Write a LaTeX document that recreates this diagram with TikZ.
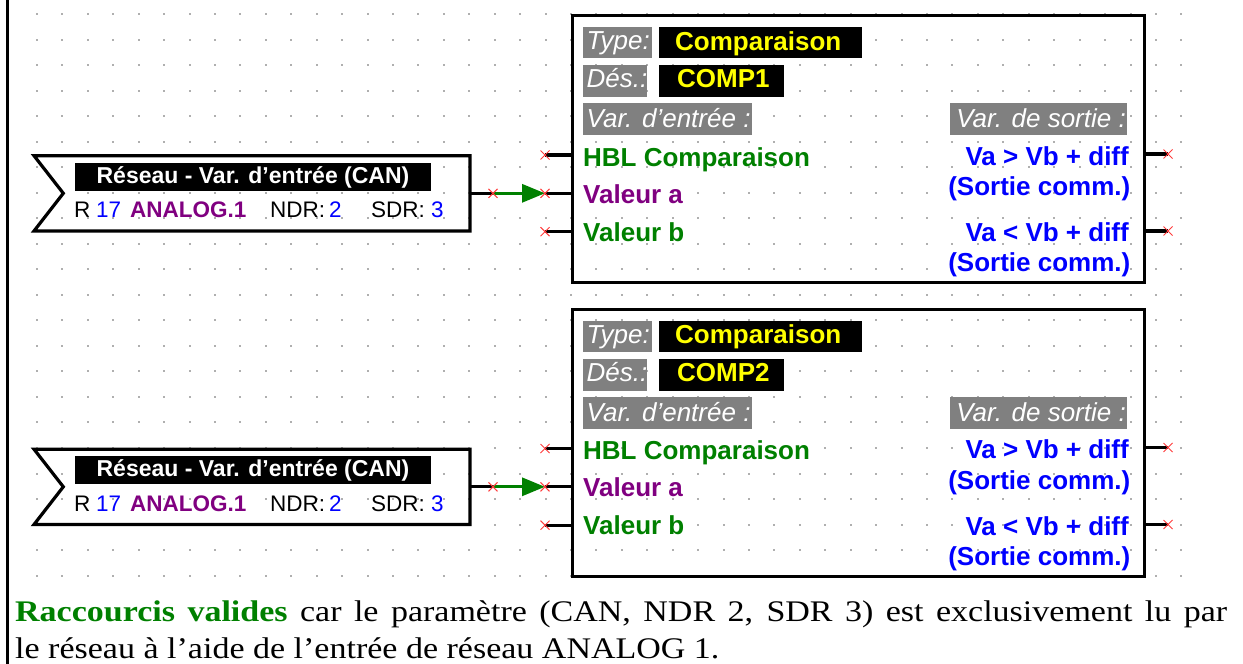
\documentclass[tikz,border=0pt]{standalone}
\usepackage{fontspec}
\setmainfont{Liberation Serif}
\newfontfamily\arialf{Liberation Sans}
\usetikzlibrary{shapes.misc,arrows.meta}
\definecolor{cgreen}{RGB}{0,128,0}
\definecolor{cpurple}{RGB}{128,0,128}
\definecolor{cblue}{RGB}{0,0,255}
\definecolor{cyellow}{RGB}{255,255,0}
\definecolor{cgray}{RGB}{128,128,128}
\definecolor{cdot}{RGB}{175,175,175}
\definecolor{cred}{RGB}{255,60,60}
\tikzset{
  wire/.style={line width=3.2pt},
  frame/.style={draw, line width=3.2pt, inner sep=0pt},
  xmark/.style={draw=cred, cross out, minimum size=8pt, inner sep=0pt, line width=1pt},
  graybox/.style={fill=cgray, inner sep=0pt, anchor=north west},
  blackbox/.style={fill=black, inner sep=0pt, anchor=north west},
  itl/.style={inner sep=0pt, anchor=base west, text=white, font=\arialf\itshape\fontsize{26}{30}\selectfont},
  ylw/.style={inner sep=0pt, anchor=base west, text=cyellow, font=\arialf\bfseries\fontsize{26}{30}\selectfont},
  bld/.style={inner sep=0pt, anchor=base west, font=\arialf\bfseries\fontsize{26}{30}\selectfont},
  rn/.style={inner sep=0pt, anchor=base west, font=\arialf\fontsize{22.5}{27}\selectfont},
  rb/.style={inner sep=0pt, anchor=base west, font=\arialf\bfseries\fontsize{22.5}{27}\selectfont},
  note/.style={inner sep=0pt, anchor=base west, font=\fontsize{34}{32}\selectfont}
}
\begin{document}
\begin{tikzpicture}[x=1pt,y=-1pt]
\useasboundingbox (0,0) rectangle (1243,664);
% grid of dots
\foreach \i in {0,...,45}{
  \foreach \j in {0,...,22}{
    \fill[cdot] ({37+25.43*\i-1},{14+25.53*\j-1}) rectangle ++(2,2);
  }
}
% left border
\draw[line width=3pt] (7,0) -- (7,664);

\foreach \k/\off/\des in {1/0/COMP1,2/293.5/COMP2}{
\begin{scope}[yshift=-\off pt]
  % comparison block
  \node[frame, minimum width=571.8pt, minimum height=267pt, anchor=north west] (comp\k) at (570.7,14) {};
  \node[graybox, minimum width=69pt, minimum height=31pt] (tyb\k) at (583,27) {};
  \node[itl] (tyt\k) at (586.5,49.5) {Type:};
  \node[blackbox, minimum width=203pt, minimum height=31pt] (cpb\k) at (659,27) {};
  \node[ylw] (cpt\k) at (675,50) {Comparaison};
  \node[graybox, minimum width=64pt, minimum height=32pt] (dsb\k) at (583,65) {};
  \node[itl] (dst\k) at (586.5,87.5) {Dés.:};
  \node[blackbox, minimum width=125pt, minimum height=32pt] (nmb\k) at (659,65) {};
  \node[ylw] (nmt\k) at (677,87.5) {\des};
  \node[graybox, minimum width=169pt, minimum height=32pt] (vib\k) at (583,103) {};
  \node[itl] (vit\k) at (586.5,127.5) {Var. d’entrée :};
  \node[graybox, minimum width=177pt, minimum height=32pt] (vob\k) at (950,103) {};
  \node[itl, anchor=base east] (vot\k) at (1126,127.5) {Var. de sortie :};
  \node[bld, text=cgreen] (in1t\k) at (583,166) {HBL Comparaison};
  \node[bld, text=cpurple] (in2t\k) at (583,203.3) {Valeur a};
  \node[bld, text=cgreen] (in3t\k) at (583,241) {Valeur b};
  \node[bld, text=cblue, anchor=base east] (o1t\k) at (1129,165) {Va > Vb + diff};
  \node[bld, text=cblue, anchor=base east] (o1s\k) at (1130.5,195.5) {(Sortie comm.)};
  \node[bld, text=cblue, anchor=base east] (o2t\k) at (1129,241.5) {Va < Vb + diff};
  \node[bld, text=cblue, anchor=base east] (o2s\k) at (1130.5,271.5) {(Sortie comm.)};
  % connection points
  \coordinate (pi1\k) at (545,155);
  \coordinate (pi2\k) at (545,193.3);
  \coordinate (pi3\k) at (545,231.7);
  \coordinate (po1\k) at (1168,154);
  \coordinate (po2\k) at (1168,231);
  \coordinate (pa\k) at (493,193.3);
  % network input block
  \draw[wire, line join=miter] (34,155.7) -- (470,155.7) -- (470,231) -- (34,231) -- (63.3,193.3) -- cycle;
  \coordinate (res\k) at (470,193.3);
  \node[blackbox, minimum width=356pt, minimum height=28pt] (rlb\k) at (75,162.3) {};
  \node[inner sep=0pt, anchor=base, text=white, font=\arialf\bfseries\fontsize{23}{27}\selectfont] (rlt\k) at (253,183) {Réseau - Var. d’entrée (CAN)};
  \node[rn] (r\k) at (74,217.7) {R};
  \node[rn, text=cblue] (rn\k) at (96,217.7) {17};
  \node[rb, text=cpurple] (an\k) at (130,217.7) {ANALOG.1};
  \node[rn] (nd\k) at (270,217.7) {NDR:};
  \node[rn, text=cblue] (ndv\k) at (329,217.7) {2};
  \node[rn] (sd\k) at (371,217.7) {SDR:};
  \node[rn, text=cblue] (sdv\k) at (431,217.7) {3};
  % connectors
  \draw[wire] (pi1\k) -- (pi1\k -| comp\k.west);
  \draw[wire] (pi2\k) -- (pi2\k -| comp\k.west);
  \draw[wire] (pi3\k) -- (pi3\k -| comp\k.west);
  \draw[wire] (po1\k -| comp\k.east) -- (po1\k);
  \draw[wire] (po2\k -| comp\k.east) -- (po2\k);
  \draw[wire] (res\k) -- (pa\k);
  \draw[wire, cgreen, -{Triangle[length=23pt,width=18pt]}] (pa\k) -- (pi2\k);
  % red end marks
  \node[xmark] (xi1\k) at (pi1\k) {};
  \node[xmark] (xi2\k) at (pi2\k) {};
  \node[xmark] (xi3\k) at (pi3\k) {};
  \node[xmark] (xo1\k) at (po1\k) {};
  \node[xmark] (xo2\k) at (po2\k) {};
  \node[xmark] (xa\k) at (pa\k) {};
\end{scope}
}

% note text
\node[note] (note1) at (15,621.3) {\scalebox{1}[0.88]{\makebox[1212pt][s]{\textcolor{cgreen}{\textbf{Raccourcis valides}} car le paramètre (CAN, NDR 2, SDR 3) est exclusivement lu par}}};
\node[note] (note2) at (15,658) {\scalebox{1}[0.88]{le réseau à l’aide de l’entrée de réseau ANALOG 1.}};
\end{tikzpicture}
\end{document}
